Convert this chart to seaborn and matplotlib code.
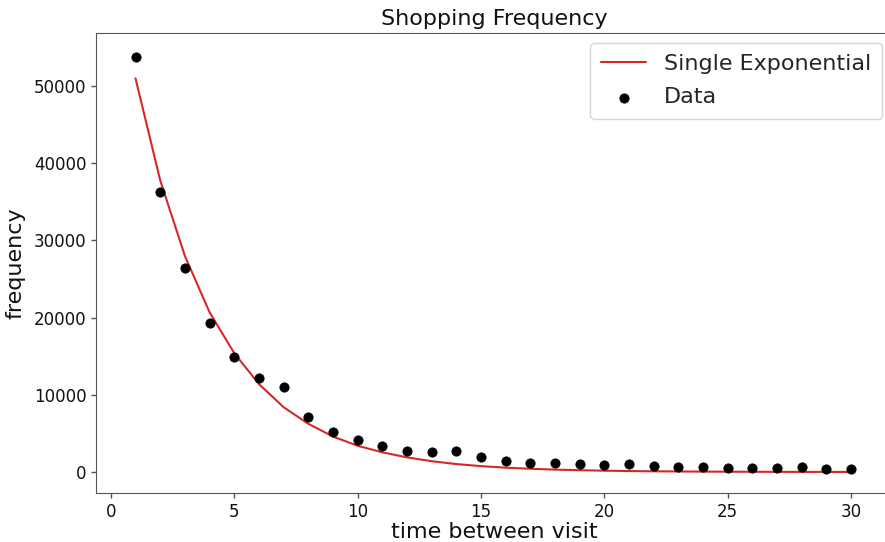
# Shopping frequency vs. time between visits, with a single exponential fit

# imports
import matplotlib
matplotlib.use("Agg")
import matplotlib.pyplot as plt
import seaborn as sns

# data
days = list(range(1, 31))
frequency = [53700, 36300, 26400, 19300, 14900, 12200, 11000, 7100, 5200, 4150,
             3400, 2700, 2600, 2700, 1900, 1420, 1200, 1200, 1040, 860,
             1040, 730, 600, 600, 470, 470, 470, 600, 340, 340]
# fitted single exponential, read at each day
fit = [51000, 37800, 28000, 20700, 15400, 11400, 8400, 6250, 4600, 3400,
       2550, 1900, 1400, 1030, 760, 560, 420, 310, 230, 170,
       125, 90, 70, 50, 40, 30, 20, 15, 10, 8]

# plot cosmetics
sns.set_style("ticks")
plt.rcParams["font.family"] = ["DejaVu Sans"]

fig = plt.figure(figsize=(8.85, 5.42), dpi=100)
# axes run slightly past the right edge, as in the reference
ax = fig.add_axes([0.1085, 0.0904, 0.8995, 0.8487])

sns.lineplot(x=days, y=fit, color="tab:red", linewidth=1.5,
             label="Single Exponential", ax=ax)
sns.scatterplot(x=days, y=frequency, color="black", s=45, edgecolor="black",
                label="Data", ax=ax, zorder=3)

ax.set_xlim(-0.6, 31.66)
ax.set_ylim(-2720, 56870)
ax.set_xticks([0, 5, 10, 15, 20, 25, 30])
ax.set_yticks([0, 10000, 20000, 30000, 40000, 50000])
ax.tick_params(labelsize=12, length=3.5, width=1, pad=3.5,
               color="#555555", labelcolor="#111111")
for _s in ax.spines.values():
    _s.set_visible(True)
    _s.set_color("#555555")

ax.set_title("Shopping Frequency", fontsize=16, color="#111111")
ax.set_xlabel("time between visit", fontsize=16, labelpad=1, color="#111111")
ax.set_ylabel("frequency", fontsize=16, labelpad=6, color="#111111")
ax.legend(loc="upper right", fontsize=16, borderaxespad=0.45,
          borderpad=0.5, labelspacing=0.6)

# save
fig.savefig("out.png", dpi=100)
